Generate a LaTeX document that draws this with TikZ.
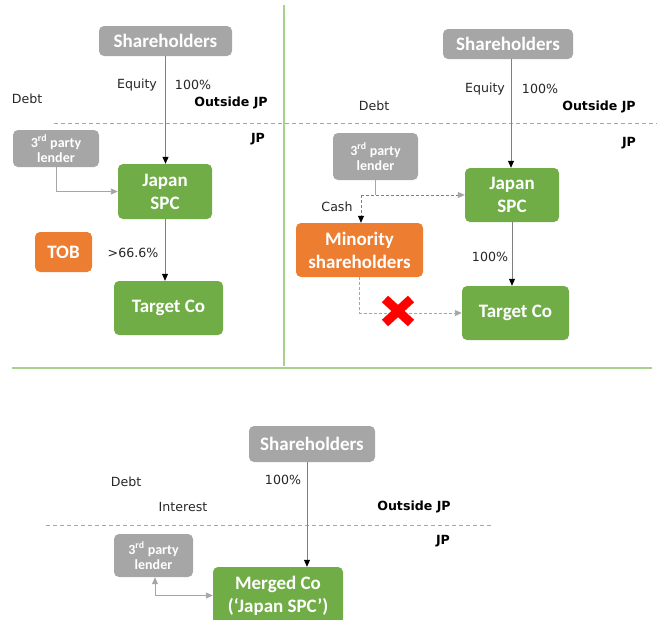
\documentclass[tikz,border=0pt]{standalone}
\usepackage{fontspec}
\setmainfont{Carlito}
\newfontfamily\lblfont{DejaVu Sans}
\usetikzlibrary{arrows.meta}
\definecolor{boxgray}{HTML}{A6A6A6}
\definecolor{boxgreen}{HTML}{70AD47}
\definecolor{boxorange}{HTML}{ED7D31}
\definecolor{divgreen}{HTML}{A9D18E}
\definecolor{linegray}{HTML}{7F7F7F}
\definecolor{lightline}{HTML}{A6A6A6}
\definecolor{txt}{HTML}{262626}
\tikzset{
  box/.style={rounded corners=5pt, text=white, align=center, inner sep=0pt,
    font=\fontsize{19}{23}\selectfont\bfseries},
  graybox/.style={box, fill=boxgray},
  greenbox/.style={box, fill=boxgreen},
  orangebox/.style={box, fill=boxorange},
  lendbox/.style={box, fill=boxgray, font=\fontsize{14}{15}\selectfont\bfseries},
  lbl/.style={text=txt, font=\lblfont\fontsize{12.6}{14}\selectfont, inner sep=0pt},
  blbl/.style={text=black, font=\lblfont\fontsize{12.6}{14}\selectfont\bfseries, inner sep=0pt},
  mainarrow/.style={draw=linegray, line width=0.8pt, -{Triangle[length=7pt,width=6pt,black]}},
  lendarrow/.style={draw=lightline, line width=0.9pt, -{Triangle[length=7pt,width=6pt,lightline]}},
  cashline/.style={draw=linegray, line width=0.8pt, dash pattern=on 3pt off 2pt},
  divline/.style={draw=divgreen, line width=1.2pt},
  border/.style={draw=lightline, line width=0.9pt, dash pattern=on 4pt off 3pt},
}
\begin{document}
\begin{tikzpicture}[x=1pt,y=-1pt]
\useasboundingbox (0,0) rectangle (661,619);
\clip (0,0) rectangle (661,619);

% dividers
\draw[divline] (284,5) -- (284,366);
\draw[divline] (12,368) -- (652,368);
\draw[border] (54,123) -- (657,123);
\draw[border] (46,525) -- (492,525);

% ---------- panel 1 ----------
\node[graybox, minimum width=133pt, minimum height=30pt] (sh1) at (165.5,41) {Shareholders};
\node[lendbox, minimum width=86pt, minimum height=37pt] (lend1) at (56,148.5) {3\textsuperscript{rd} party\\lender};
\node[greenbox, minimum width=94pt, minimum height=55pt] (spc1) at (165,191.5) {Japan\\SPC};
\node[orangebox, minimum width=57pt, minimum height=40pt] (tob) at (63.5,252) {TOB};
\node[greenbox, minimum width=109pt, minimum height=54pt] (tgt1) at (168.5,308) {Target Co};

\draw[mainarrow] (sh1.south) -- (sh1.south |- spc1.north);
\draw[lendarrow] (lend1.south) |- (spc1.west);
\draw[mainarrow] (spc1.south) -- (spc1.south |- tgt1.north);

\node[lbl] (eq1) at (137,85) {Equity};
\node[lbl] (pc1) at (193,85) {100\%};
\node[lbl] (debt1) at (27,99) {Debt};
\node[blbl] (out1) at (231,103) {Outside JP};
\node[blbl] (jp1) at (258,139) {JP};
\node[lbl] (pct1) at (133,253) {>66.6\%};

% ---------- panel 2 ----------
\node[graybox, minimum width=130pt, minimum height=30pt] (sh2) at (508,44) {Shareholders};
\node[lendbox, minimum width=85pt, minimum height=47pt] (lend2) at (375.5,156.5) {3\textsuperscript{rd} party\\lender};
\node[greenbox, minimum width=94pt, minimum height=54pt] (spc2) at (512,195) {Japan\\SPC};
\node[orangebox, minimum width=127pt, minimum height=54pt] (min) at (359.5,250) {Minority\\shareholders};
\node[greenbox, minimum width=107pt, minimum height=54pt] (tgt2) at (515.5,313) {Target Co};

\draw[mainarrow] ([xshift=3pt]sh2.south) -- ([xshift=3pt]sh2.south |- spc2.north);
\draw[mainarrow] (spc2.south) -- (spc2.south |- tgt2.north);

\coordinate (cj) at (361,195);
\draw[draw=lightline, line width=0.9pt] (lend2.south) -- (lend2.south |- cj);
\draw[cashline, -{Triangle[length=7pt,width=6pt,lightline]}] (cj) -- (spc2.west);
\draw[cashline, -{Triangle[length=7pt,width=6pt,black]}] (cj) -- (cj |- min.north);
\draw[draw=lightline, line width=0.9pt, dash pattern=on 3pt off 2pt, -{Triangle[length=7pt,width=6pt,lightline]}] (min.south) |- (tgt2.west);

\node[lbl] (cash) at (337,207) {Cash};
\node[lbl] (pc2b) at (490,257) {100\%};
\node[lbl] (eq2) at (485,89) {Equity};
\node[lbl] (pc2) at (540,89) {100\%};
\node[lbl] (debt2) at (374,106) {Debt};
\node[blbl] (out2) at (599,107) {Outside JP};
\node[blbl] (jp2) at (629,143) {JP};

% red cross
\coordinate (xc) at (398,311);
\draw[red, line width=9pt] ([shift={(-13,-12)}]xc) -- ([shift={(13,12)}]xc);
\draw[red, line width=9pt] ([shift={(-13,12)}]xc) -- ([shift={(13,-12)}]xc);

% ---------- panel 3 ----------
\node[graybox, minimum width=126pt, minimum height=36pt] (sh3) at (312,444) {Shareholders};
\node[lendbox, minimum width=79pt, minimum height=43pt] (lend3) at (153.5,555.5) {3\textsuperscript{rd} party\\lender};
\node[greenbox, minimum width=130pt, minimum height=57pt] (merged) at (278,595.5) {Merged Co\\(‘Japan SPC’)};

\draw[mainarrow] ([xshift=-5pt]sh3.south) -- ([xshift=-5pt]sh3.south |- merged.north);
\draw[lendarrow, {Triangle[length=7pt,width=6pt,lightline]}-{Triangle[length=7pt,width=6pt,lightline]}] ([xshift=1.5pt]lend3.south) |- (merged.west);

\node[lbl] (pc3) at (283,480) {100\%};
\node[lbl] (debt3) at (126,482) {Debt};
\node[lbl] (int3) at (183,507) {Interest};
\node[blbl] (out3) at (414,507) {Outside JP};
\node[blbl] (jp3) at (443,541) {JP};
\end{tikzpicture}
\end{document}
